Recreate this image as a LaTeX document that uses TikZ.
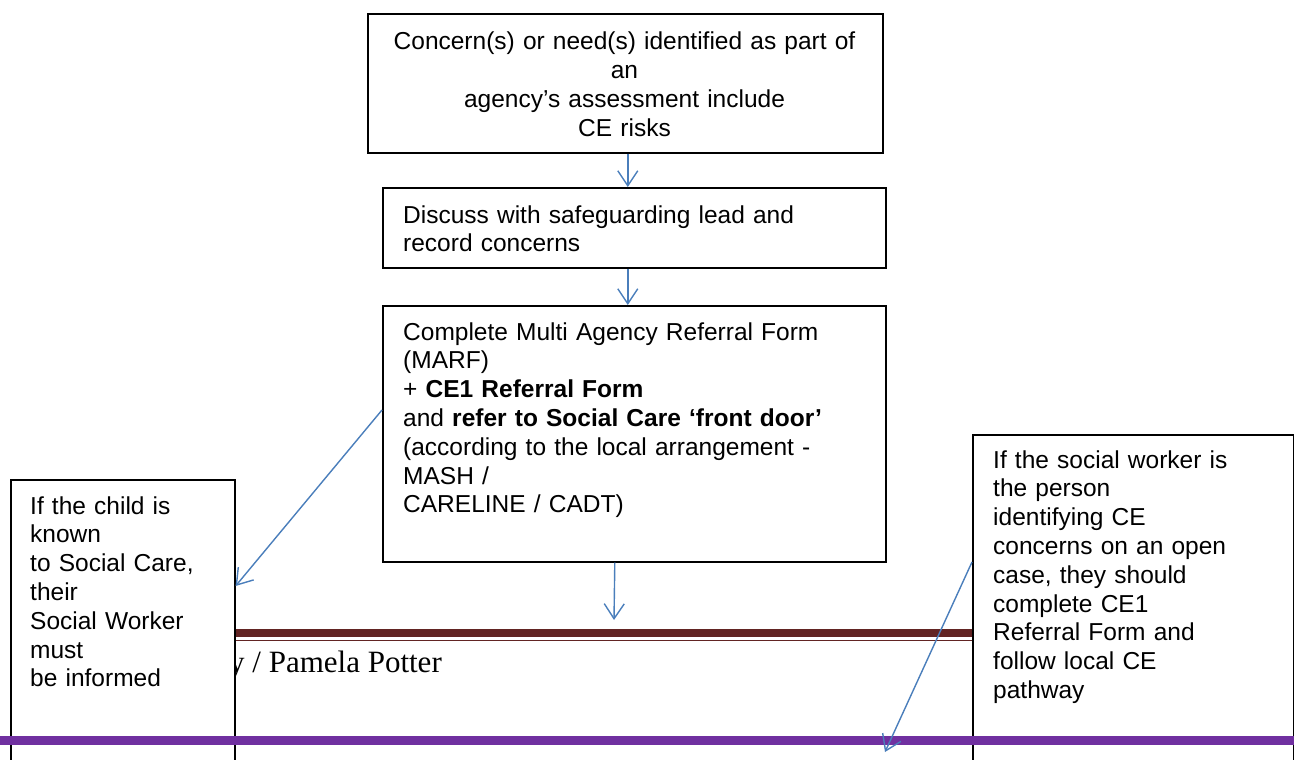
\documentclass[tikz,border=0pt]{standalone}
\usepackage{fontspec}
\setmainfont{Liberation Sans}
\newfontfamily\footserif{Liberation Serif}
\usetikzlibrary{arrows.meta,calc}
\definecolor{arrblue}{HTML}{4A7EBB}
\definecolor{footmaroon}{HTML}{622423}
\definecolor{footpurple}{HTML}{7030A0}
\begin{document}
\begin{tikzpicture}[x=1pt,y=-1pt,
  box/.style={draw=black, line width=1.6pt, fill=white, inner sep=0pt, anchor=north west},
  txt/.style={inner sep=0pt, font=\fontsize{24.5}{28.8}\selectfont},
  arr/.style={draw=arrblue, line width=1.4pt, -{Straight Barb[length=15pt,width=20pt,line width=1.4pt]}}]
\useasboundingbox (0,0) rectangle (1294,760);
\clip (0,0) rectangle (1294,760);
% footer rules and text
\draw[footmaroon, line width=8pt] (234,633) -- (972,633);
\draw[footmaroon, line width=1.5pt] (234,640.5) -- (972,640.5);
\node[anchor=base east, inner sep=0pt, font=\footserif\fontsize{31}{35}\selectfont] (ft) at (442,672) {y / Pamela Potter};
% boxes
\node[box, minimum width=515pt, minimum height=139pt] (b1) at (367,13) {};
\node[box, minimum width=503pt, minimum height=80pt] (b2) at (382,187) {};
\node[box, minimum width=503pt, minimum height=256pt] (b3) at (382,305) {};
\node[box, minimum width=224pt, minimum height=320pt] (lb) at (10,479) {};
\node[box, minimum width=321pt, minimum height=360pt] (rb) at (972,434) {};
% texts
\node[txt, anchor=base, text width=510pt, align=center] (t1) at (624.5,50)
  {Concern(s) or need(s) identified as part of\\ an\\ agency’s assessment include\\ CE risks};
\node[txt, anchor=base west, text width=480pt, align=left] (t2) at (403,223)
  {Discuss with safeguarding lead and\\ record concerns};
\node[txt, anchor=base west, text width=480pt, align=left] (t3) at (403,340)
  {Complete Multi Agency Referral Form\\ (MARF)\\ + \textbf{CE1 Referral Form}\\ and \textbf{refer to Social Care ‘front door’}\\ (according to the local arrangement -\\ MASH /\\ CARELINE / CADT)};
\node[txt, anchor=base west, text width=200pt, align=left] (tl) at (30,514)
  {If the child is\\ known\\ to Social Care,\\ their\\ Social Worker\\ must\\ be informed};
\node[txt, anchor=base west, text width=290pt, align=left] (tr) at (993,468)
  {If the social worker is\\ the person\\ identifying CE\\ concerns on an open\\ case, they should\\ complete CE1\\ Referral Form and\\ follow local CE\\ pathway};
% purple rule
\draw[footpurple, line width=9pt] (0,740.5) -- (1294,740.5);
% connectors
\coordinate (e3) at (614,620);
\coordinate (er) at (885,752);
\draw[arr] ([xshift=2.5pt]b1.south) -- ([xshift=-6.5pt]b2.north);
\draw[arr] ([xshift=-6.5pt]b2.south) -- ([xshift=-6.5pt]b3.north);
\draw[arr] ([xshift=-19.5pt]b3.south) -- (e3);
\draw[arr] ($(b3.north west)+(0,105)$) -- ($(lb.north east)+(0,107)$);
\draw[arr] ($(rb.north west)+(0,128)$) -- (er);
\end{tikzpicture}
\end{document}
